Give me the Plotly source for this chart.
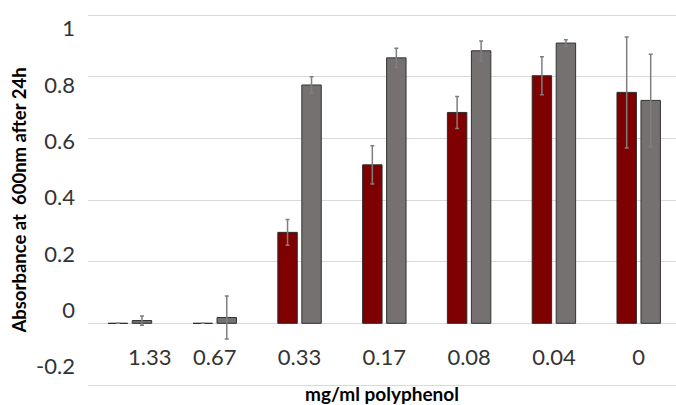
import plotly.graph_objects as go

categories = ["1.33", "0.67", "0.33", "0.17", "0.08", "0.04", "0"]
# the first label sits right of its bars in the source (leading spaces)
x_tick_labels = ["\u00a0" * 7 + "1.33", "0.67", "0.33", "0.17", "0.08", "0.04", "0"]
red_values = [0.0, 0.0, 0.295, 0.514, 0.684, 0.803, 0.749]
red_errors = [0.0, 0.0, 0.042, 0.062, 0.052, 0.062, 0.180]
gray_values = [0.009, 0.019, 0.773, 0.861, 0.884, 0.909, 0.723]
gray_errors = [0.015, 0.070, 0.027, 0.031, 0.032, 0.011, 0.150]
y_tick_values = [-0.2, 0, 0.2, 0.4, 0.6, 0.8, 1]
y_tick_labels = ["-0.2", "0", "0.2", "0.4", "0.6", "0.8", "1"]

FONT = "Lato"
TXT = "#333333"

err_style = dict(type="data", visible=True, color="#7f7f7f", thickness=1.5, width=2)

fig = go.Figure()
fig.add_trace(go.Bar(
    x=categories, y=red_values,
    marker=dict(color="#7f0000", line=dict(color="#2b2b2b", width=1)),
    error_y=dict(array=red_errors, **err_style),
    showlegend=False,
))
fig.add_trace(go.Bar(
    x=categories, y=gray_values,
    marker=dict(color="#757171", line=dict(color="#333333", width=1)),
    error_y=dict(array=gray_errors, **err_style),
    showlegend=False,
))
# empty helper trace so the label axis (y2) is rendered
fig.add_trace(go.Scatter(x=[], y=[], yaxis="y2", showlegend=False, hoverinfo="skip"))

eps = 0.0065
fig.update_layout(
    width=676, height=405,
    margin=dict(l=88, r=0, t=13, b=18),
    paper_bgcolor="white", plot_bgcolor="white",
    barmode="group", bargap=0.434, bargroupgap=0.19,
    font=dict(family=FONT, color=TXT, size=22),
    xaxis=dict(
        type="category", range=[-0.495, 6.44],
        tickvals=categories, ticktext=x_tick_labels,
        anchor="free", position=((0.2 + eps) / (1.2 + 2 * eps)),
        showline=False, showgrid=False, zeroline=False,
        ticks="", ticklabelstandoff=19,
        tickfont=dict(family=FONT, size=22, color=TXT),
        title=dict(text="mg/ml polyphenol", font=dict(family=FONT, size=19, color="black", weight="bold"), standoff=35),
        automargin=False,
    ),
    yaxis=dict(
        range=[-0.2 - eps, 1.0 + eps], tickvals=y_tick_values, showticklabels=False,
        showgrid=True, gridcolor="#d9d9d9", gridwidth=1,
        zeroline=True, zerolinecolor="#d9d9d9", zerolinewidth=1,
        showline=False, ticks="", automargin=False,
    ),
    yaxis2=dict(
        overlaying="y", side="left", anchor="x",
        range=[-0.2728, 1.055], tickvals=y_tick_values, ticktext=y_tick_labels,
        showgrid=False, zeroline=False, showline=False, ticks="",
        ticklabelstandoff=12,
        tickfont=dict(family=FONT, size=22, color=TXT),
        title=dict(text="Absorbance at  600nm after 24h", font=dict(family=FONT, size=18.5, color="black", weight="bold"), standoff=4),
        automargin=False,
    ),
)

fig.write_html("out.html", config={"displayModeBar": False},
               post_script="document.body.style.margin='0';")
